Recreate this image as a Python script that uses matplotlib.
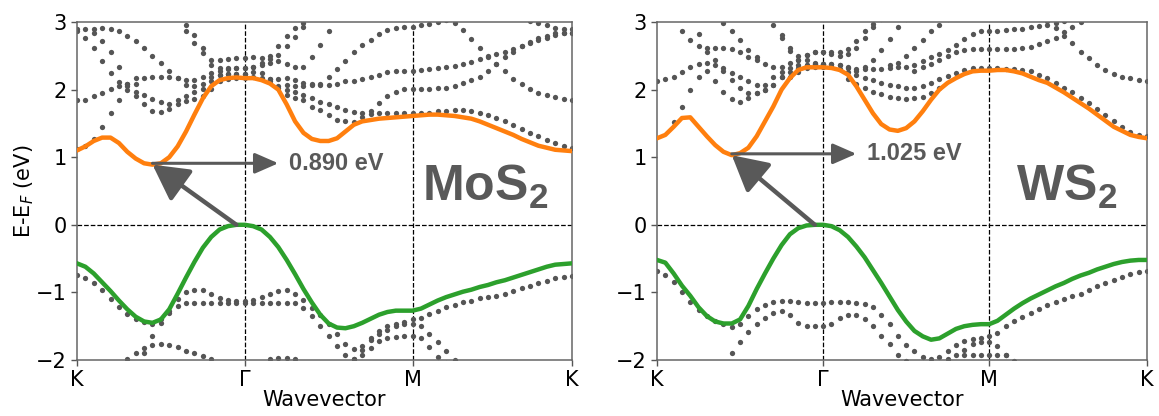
import numpy as np
import matplotlib
matplotlib.use('Agg')
from matplotlib import pyplot as plt

plt.rcParams['mathtext.fontset'] = 'custom'
plt.rcParams['mathtext.rm'] = 'DejaVu Sans'
plt.rcParams['mathtext.it'] = 'DejaVu Sans:italic'
plt.rcParams['mathtext.bf'] = 'Liberation Sans:bold'

c_cb = '#ff7f0e'    # orange, lowest conduction band
c_vb = '#2ca02c'    # green, highest valence band
c_dots = '#555555'  # other bands
c_note = '#595959'

# k-path: index of each k point, K-G 20 steps, G-M 20 steps, M-K 19 steps
k_ticks = [0, 20, 40, 59]
k_labels = ['K', 'Γ', 'M', 'K']
e_ticks = [-2, -1, 0, 1, 2, 3]

##### MoS2

mos2_cb = [1.10, 1.16, 1.24, 1.29, 1.29, 1.21, 1.08, 0.98, 0.91, 0.89,
           0.91, 1.00, 1.16, 1.38, 1.63, 1.87, 2.05, 2.14, 2.17, 2.18,
           2.17, 2.17, 2.14, 2.09, 2.00, 1.78, 1.53, 1.36, 1.27, 1.24,
           1.24, 1.28, 1.38, 1.48, 1.53, 1.55, 1.57, 1.58, 1.59, 1.60,
           1.61, 1.62, 1.63, 1.63, 1.62, 1.61, 1.59, 1.57, 1.53, 1.48,
           1.43, 1.38, 1.33, 1.27, 1.22, 1.17, 1.14, 1.11, 1.10, 1.09]
mos2_vb = [-0.57, -0.62, -0.72, -0.85, -0.98, -1.12, -1.25, -1.36, -1.43, -1.45,
           -1.40, -1.25, -1.02, -0.78, -0.55, -0.34, -0.18, -0.07, -0.02, 0.00,
           0.00, -0.02, -0.07, -0.18, -0.33, -0.52, -0.73, -0.95, -1.15, -1.33,
           -1.46, -1.52, -1.53, -1.50, -1.45, -1.39, -1.33, -1.29, -1.27, -1.27,
           -1.27, -1.24, -1.18, -1.12, -1.07, -1.03, -0.99, -0.96, -0.92, -0.89,
           -0.85, -0.82, -0.78, -0.74, -0.70, -0.66, -0.62, -0.59, -0.58, -0.57]

# (first k index, energies) for the grey bands
mos2_c1 = (0, [2.89, 2.89, 2.90, 2.91, 2.90, 2.86, 2.80, 2.72, 2.61, 2.50,
               2.39, 2.28, 2.17, 2.14, 2.14, 2.18, 2.24, 2.27, 2.30, 2.32,
               2.32, 2.33, 2.39, 2.50, 2.64, 2.79, 2.91, 2.98])
mos2_c2 = (13, [2.87, 2.81, 2.61, 2.44, 2.44, 2.46, 2.47, 2.47, 2.48, 2.47,
                2.46, 2.51, 2.64, 2.78, 2.92])
mos2_c3 = (13, [2.95, 2.69, 2.54, 2.37, 2.32, 2.32, 2.32, 2.32, 2.33, 2.36,
                2.40, 2.42, 2.38, 2.34, 2.33, 2.48, 2.66, 2.87])
mos2_c4 = (0, [1.85, 1.85, 1.91, 1.95, 2.01, 2.06, 2.09, 2.17, 2.17, 2.19,
               2.19, 2.19, 2.17, 2.07, 2.05, 2.09, 2.19, 2.22, 2.23, 2.23,
               2.23, 2.26, 2.24, 2.15, 2.05, 2.07, 2.06, 2.06, 2.07, 2.07,
               2.07, 2.08, 2.12, 2.13, 2.16, 2.18, 2.21, 2.26, 2.28, 2.28,
               2.28, 2.29, 2.30, 2.32, 2.34, 2.35, 2.38, 2.41, 2.45, 2.48,
               2.52, 2.56, 2.60, 2.64, 2.69, 2.73, 2.77, 2.81, 2.83, 2.84])
mos2_c5 = (0, [2.87, 2.77, 2.61, 2.43, 2.24, 2.11, 2.05, 1.97, 1.92, 1.86,
               1.81, 1.78, 1.78, 1.83, 1.86, 1.91, 2.01, 2.12, 2.16, 2.17,
               2.17, 2.19, 2.17, 2.16, 2.15, 2.17, 2.14, 2.10, 2.08, 2.09,
               2.18, 2.31, 2.43, 2.56, 2.66, 2.74, 2.82, 2.88, 2.91, 2.93,
               2.93, 2.95, 2.97, 3.00, 3.03])
mos2_c6 = (2, [2.84, 2.72, 2.55, 2.33, 2.09, 1.91, 1.78, 1.68, 1.67, 1.72,
               1.85, 1.90, 1.96, 2.01, 2.12, 2.22, 2.23, 2.23, 2.23])
mos2_c7 = (0, [1.12, 1.16, 1.27, 1.45, 1.65, 1.84, 2.00, 2.09])
mos2_c8 = (23, [2.12, 2.02, 1.92, 1.88, 1.85, 1.75, 1.70, 1.63, 1.55, 1.54,
                1.52, 1.60, 1.64, 1.65, 1.65, 1.65, 1.65, 1.65, 1.65, 1.66,
                1.68, 1.69, 1.70, 1.70, 1.68, 1.65, 1.63, 1.58, 1.53, 1.48,
                1.41, 1.36, 1.31, 1.26, 1.21, 1.16, 1.13])
mos2_c9 = (25, [2.00, 1.97, 1.92, 1.87, 1.82, 1.79, 1.75, 1.70, 1.67, 1.65,
                1.69, 1.80, 1.90, 1.97, 2.01, 2.01, 2.01, 2.01, 2.02, 2.03,
                2.05, 2.10, 2.14, 2.19, 2.27, 2.38, 2.48, 2.56, 2.64, 2.71,
                2.76, 2.80, 2.83, 2.84, 2.84])
mos2_c10 = (45, [2.98, 2.88, 2.75, 2.62, 2.50, 2.38, 2.27, 2.16, 2.08, 2.01,
                 1.95, 1.92, 1.89, 1.86, 1.85])
mos2_c11 = (54, [3.02, 2.98, 2.95, 2.91, 2.89, 2.89])
mos2_v1 = (0, [-0.74, -0.79, -0.86, -0.97, -1.10, -1.22, -1.32, -1.40, -1.44, -1.46,
               -1.40, -1.28, -1.10, -1.00, -0.96, -0.96, -1.02, -1.08, -1.11, -1.12,
               -1.12, -1.11, -1.07, -1.02, -0.98, -0.97, -1.03, -1.11, -1.23, -1.33,
               -1.47, -1.62, -1.77, -1.84, -1.79, -1.70, -1.62, -1.55, -1.49, -1.44,
               -1.40, -1.38, -1.32, -1.27, -1.22, -1.18, -1.14, -1.12, -1.09, -1.07,
               -1.05, -1.02, -0.98, -0.94, -0.90, -0.86, -0.83, -0.79, -0.77, -0.75])
mos2_v2 = (8, [-1.90, -1.65, -1.45, -1.30, -1.20, -1.16, -1.15, -1.15, -1.15, -1.15,
               -1.15, -1.15, -1.15, -1.15, -1.15, -1.15, -1.15, -1.15, -1.16, -1.23,
               -1.35, -1.50, -1.65, -1.80, -1.92, -1.98, -1.93, -1.82, -1.72, -1.68,
               -1.66, -1.65, -1.65, -1.68, -1.81, -1.95, -2.05])
mos2_v3 = (33, [-1.99, -1.85, -1.68, -1.57, -1.50, -1.47, -1.46, -1.46, -1.49, -1.61,
                -1.74, -1.87, -2.00])
mos2_v4 = (6, [-1.99, -1.90, -1.82, -1.78, -1.77, -1.78, -1.81, -1.86, -1.90, -1.94,
               -1.99])
mos2_v5 = (23, [-1.99, -1.97, -1.97, -1.99])

##### WS2

ws2_cb = [1.28, 1.33, 1.45, 1.58, 1.59, 1.45, 1.31, 1.18, 1.08, 1.03,
          1.06, 1.14, 1.31, 1.53, 1.75, 2.00, 2.17, 2.29, 2.33, 2.33,
          2.33, 2.32, 2.29, 2.22, 2.05, 1.85, 1.65, 1.49, 1.41, 1.39,
          1.43, 1.53, 1.68, 1.85, 2.00, 2.10, 2.17, 2.23, 2.27, 2.28,
          2.28, 2.29, 2.29, 2.27, 2.24, 2.19, 2.14, 2.10, 2.03, 1.96,
          1.88, 1.80, 1.72, 1.63, 1.54, 1.45, 1.39, 1.33, 1.30, 1.28]
ws2_vb = [-0.52, -0.56, -0.72, -0.90, -1.05, -1.22, -1.35, -1.43, -1.46, -1.46,
          -1.40, -1.20, -0.95, -0.72, -0.50, -0.30, -0.14, -0.05, -0.01, 0.00,
          0.00, -0.02, -0.08, -0.18, -0.32, -0.48, -0.67, -0.86, -1.06, -1.26,
          -1.43, -1.57, -1.65, -1.70, -1.68, -1.61, -1.54, -1.50, -1.48, -1.47,
          -1.47, -1.42, -1.33, -1.24, -1.16, -1.09, -1.03, -0.97, -0.91, -0.86,
          -0.80, -0.75, -0.71, -0.66, -0.62, -0.58, -0.55, -0.53, -0.52, -0.52]

ws2_c1 = (0, [2.13, 2.16, 2.19, 2.26, 2.33, 2.38, 2.39, 2.37, 2.32, 2.24,
              2.18, 2.12, 2.07, 2.07, 2.07, 2.18, 2.26, 2.32, 2.37, 2.38,
              2.38, 2.38, 2.36, 2.32, 2.28, 2.34, 2.44, 2.59, 2.75, 2.92,
              3.05])
ws2_c2 = (3, [2.87, 2.74, 2.65, 2.62, 2.61, 2.61, 2.60, 2.55, 2.48, 2.44,
              2.38, 2.33, 2.33, 2.39, 2.44, 2.51, 2.55, 2.55, 2.55, 2.56,
              2.60, 2.72, 2.86, 2.97])
ws2_c3 = (2, [1.52, 1.74, 2.00, 2.19, 2.27, 2.13, 1.97, 1.86, 1.82, 1.87,
              1.95, 2.00, 2.07, 2.18, 2.19, 2.26, 2.32, 2.33, 2.33])
ws2_c4 = (5, [2.82, 2.56, 2.44, 2.28, 2.14, 2.02, 1.95, 1.95, 2.00, 2.19,
              2.26, 2.32, 2.37, 2.37, 2.38, 2.38, 2.35, 2.30, 2.26, 2.22,
              2.17, 2.14, 2.10, 2.07, 2.05, 2.03, 2.03, 2.05, 2.10, 2.15,
              2.20, 2.25, 2.29, 2.32, 2.32, 2.32, 2.32, 2.31, 2.30, 2.29,
              2.27, 2.22, 2.17, 2.10, 2.03, 1.96, 1.88, 1.80, 1.71, 1.62,
              1.53, 1.45, 1.38, 1.33, 1.31])
ws2_c5 = (8, [2.98, 2.86, 2.73, 2.59, 2.48])
ws2_c6 = (14, [2.96, 2.81, 2.61, 2.49, 2.44, 2.40, 2.38, 2.38, 2.37, 2.34,
               2.31, 2.30, 2.30, 2.31, 2.32, 2.33, 2.34, 2.37, 2.42, 2.48,
               2.52, 2.59, 2.66, 2.75, 2.82, 2.86, 2.87, 2.87, 2.88, 2.89,
               2.90, 2.92, 2.94, 2.96, 2.98, 3.01])
ws2_c7 = (15, [2.77, 2.57, 2.44, 2.51, 2.55, 2.55, 2.52, 2.50, 2.52, 2.62,
               2.77, 2.92, 3.05])
ws2_c8 = (28, [2.36, 2.40, 2.49, 2.61, 2.74, 2.87, 2.96, 3.05])
ws2_c9 = (23, [2.15, 2.08, 2.02, 1.97, 1.93, 1.89, 1.87, 1.86, 1.87, 1.89,
               1.95, 2.03])
ws2_c10 = (31, [2.28, 2.33, 2.38, 2.44, 2.50, 2.55, 2.59, 2.60, 2.60, 2.60,
                2.60, 2.60, 2.60, 2.61, 2.63, 2.67, 2.72, 2.77, 2.85, 2.92,
                3.00])
ws2_c11 = (47, [3.02, 2.91, 2.80, 2.69, 2.56, 2.47, 2.37, 2.29, 2.23, 2.19,
                2.17, 2.14, 2.13])
ws2_v1 = (0, [-0.69, -0.74, -0.85, -1.00, -1.14, -1.26, -1.35, -1.43, -1.47, -1.51,
              -1.46, -1.35, -1.25, -1.18, -1.14, -1.13, -1.13, -1.14, -1.15, -1.15,
              -1.15, -1.14, -1.14, -1.14, -1.15, -1.17, -1.22, -1.33, -1.47, -1.64,
              -1.78, -1.87, -1.95, -1.98, -1.95, -1.86, -1.78, -1.72, -1.69, -1.67,
              -1.65, -1.60, -1.49, -1.43, -1.36, -1.31, -1.25, -1.19, -1.14, -1.10,
              -1.06, -1.02, -0.96, -0.91, -0.86, -0.81, -0.77, -0.73, -0.70, -0.69])
ws2_v2 = (9, [-1.89, -1.73, -1.59, -1.47, -1.38, -1.30, -1.28, -1.33, -1.45, -1.49,
              -1.50, -1.50, -1.46, -1.38, -1.33, -1.33, -1.40, -1.50, -1.65, -1.77,
              -1.92, -2.02])
ws2_v3 = (35, [-1.98, -1.93, -1.93, -1.92, -1.92, -1.92, -1.92, -1.92, -2.02])
ws2_v4 = (37, [-1.85, -1.76, -1.74, -1.74, -1.80, -1.92, -2.05])

mos2_bands = [mos2_c1, mos2_c2, mos2_c3, mos2_c4, mos2_c5, mos2_c6, mos2_c7,
              mos2_c8, mos2_c9, mos2_c10, mos2_c11,
              mos2_v1, mos2_v2, mos2_v3, mos2_v4, mos2_v5]
ws2_bands = [ws2_c1, ws2_c2, ws2_c3, ws2_c4, ws2_c5, ws2_c6, ws2_c7,
             ws2_c8, ws2_c9, ws2_c10, ws2_c11,
             ws2_v1, ws2_v2, ws2_v3, ws2_v4]

gap_labels = ['0.890 eV', '1.025 eV']
names = [r'MoS$_\mathbf{2}$', r'WS$_\mathbf{2}$']
name_x = [0.952, 0.940]

#####

fig = plt.figure(figsize=(11.59, 4.16), dpi=100)
ax1 = fig.add_axes([0.0664, 0.1346, 0.4271, 0.8125])
ax2 = fig.add_axes([0.5669, 0.1346, 0.4227, 0.8125])

panels = [(ax1, mos2_cb, mos2_vb, mos2_bands),
          (ax2, ws2_cb, ws2_vb, ws2_bands)]

for i, (ax, cb, vb, bands) in enumerate(panels):
    for start, vals in bands:
        kk = np.arange(start, start + len(vals))
        ax.plot(kk, vals, 'o', color=c_dots, ms=3.8, mew=0, zorder=2)
    k = np.arange(len(cb))
    ax.plot(k, cb, color=c_cb, lw=3.2, zorder=3, solid_joinstyle='round')
    ax.plot(k, vb, color=c_vb, lw=3.2, zorder=3, solid_joinstyle='round')

    for kt in k_ticks[1:-1]:
        ax.axvline(kt, color='k', ls='--', lw=0.9, zorder=1)
    ax.axhline(0, color='k', ls='--', lw=0.9, zorder=1)

    i_v = int(np.argmax(vb))
    i_c = int(np.argmin(cb))
    ax.annotate('', xy=(i_c, cb[i_c]), xytext=(i_v, vb[i_v]), zorder=5,
                arrowprops=dict(arrowstyle='-|>,head_length=1.2,head_width=0.65',
                                mutation_scale=18, lw=3.2, color=c_note,
                                shrinkA=0, shrinkB=0))
    ya = cb[i_c] + 0.02
    ax.annotate('', xy=(i_c + 15, ya), xytext=(i_c, ya), zorder=5,
                arrowprops=dict(arrowstyle='-|>,head_length=0.8,head_width=0.35',
                                mutation_scale=18, lw=2.2, color=c_note,
                                shrinkA=0, shrinkB=0))
    ax.text(i_c + 16.3, ya, gap_labels[i], va='center', ha='left',
            fontsize=17, fontweight='bold', color=c_note,
            family='Liberation Sans')
    ax.text(name_x[i], 0.47, names[i], transform=ax.transAxes,
            ha='right', va='baseline', fontsize=36, fontweight='bold',
            color=c_note, family='Liberation Sans')

    ax.set_xlim(k_ticks[0], k_ticks[-1])
    ax.set_ylim(e_ticks[0], e_ticks[-1])
    ax.set_xticks(k_ticks)
    ax.set_xticklabels(k_labels)
    ax.set_yticks(e_ticks)
    ax.tick_params(labelsize=15, color='#555555', width=1.0, length=4)
    for sp in ax.spines.values():
        sp.set_color('#666666')
        sp.set_linewidth(1.1)
    ax.set_xlabel('Wavevector', fontsize=15, labelpad=0)

ax1.set_ylabel('E-E$_F$ (eV)', fontsize=15, labelpad=0)

fig.savefig('out.png', dpi=100)
